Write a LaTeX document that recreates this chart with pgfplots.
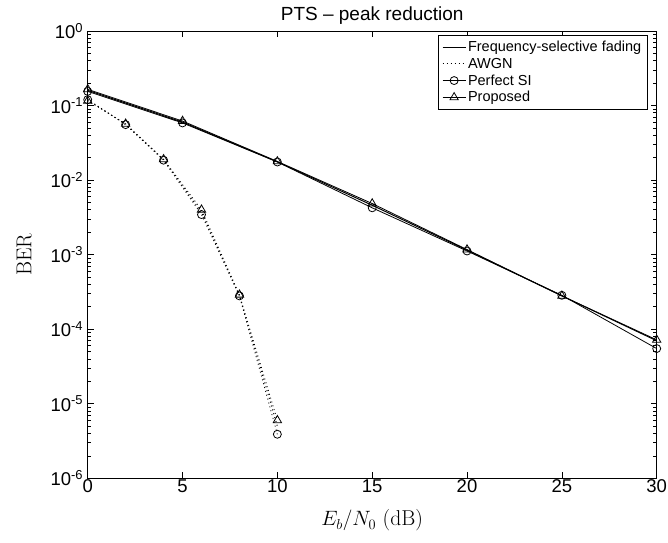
\documentclass[border=0pt]{standalone}
\usepackage{fontspec}
\newfontfamily\arial{Liberation Sans}
\usepackage{pgfplots}
\pgfplotsset{compat=1.18}

% Fading channel: theory, perfect SI, proposed
\pgfplotstableread{
snr   theory    perfect   proposed
0     0.160     0.155     0.165
5     0.0600    0.0585    0.0620
10    0.0176    0.0175    0.0178
15    0.00460   0.00425   0.00485
20    0.00115   0.00112   0.00117
25    0.000280  0.000285  0.000280
30    0.0000700 0.0000550 0.0000720
}\fading

% AWGN channel: theory, perfect SI, proposed
\pgfplotstableread{
snr   theory    perfect   proposed
0     0.120     0.120     0.116
2     0.0560    0.0555    0.0570
4     0.0188    0.0185    0.0190
6     0.00370   0.00345   0.00400
8     0.000282  0.000280  0.000290
10    0.0000050 0.0000039 0.0000060
}\awgn

\begin{document}
\begin{tikzpicture}
\begin{axis}[
  name=ax,
  scale only axis,
  width=569pt, height=447.3pt,
  xmin=0, xmax=30,
  ymin=1e-6, ymax=1,
  ymode=log,
  axis line style={line width=0.8pt},
  every tick/.style={black, line width=0.6pt},
  tick align=inside,
  major tick length=6pt,
  minor tick length=3.5pt,
  xtick={0,5,10,15,20,25,30},
  xticklabels={0,5,10,15,20,25,30},
  ytick={1e-6,1e-5,1e-4,1e-3,1e-2,1e-1,1},
  yticklabels={10\textsuperscript{-6},10\textsuperscript{-5},10\textsuperscript{-4},
               10\textsuperscript{-3},10\textsuperscript{-2},10\textsuperscript{-1},
               10\textsuperscript{0}},
  tick label style={font=\arial\fontsize{18.5}{20}\selectfont},
  xticklabel style={yshift=2pt},
  yticklabel style={xshift=-1pt},
  title={PTS \textendash{} peak reduction},
  title style={font=\arial\fontsize{19}{21}\selectfont, yshift=-3pt},
  xlabel={$E_b/N_0$ (dB)},
  ylabel={BER},
  label style={font=\fontsize{21.5}{23}\selectfont},
  xlabel style={yshift=-10pt},
  ylabel style={yshift=12pt},
  legend style={at={(0.984,0.991)}, anchor=north east,
    font=\arial\fontsize{14.5}{16}\selectfont,
    draw=black, line width=0.6pt, inner sep=4pt, row sep=0.8pt,
    cells={anchor=west}},
  legend image code/.code={%
    \draw[mark repeat=2, mark phase=2] plot coordinates {(0cm,0cm) (0.4cm,0cm) (0.8cm,0cm)};},
]
\addplot[black, line width=1pt] table[x=snr, y=theory] {\fading};
\addlegendentry{Frequency-selective fading}
\addplot[black, line width=1pt, dash pattern=on 1pt off 3pt] table[x=snr, y=theory] {\awgn};
\addlegendentry{AWGN}
\addplot[black, line width=0.8pt, mark=o, mark size=4pt] table[x=snr, y=perfect] {\fading};
\addlegendentry{Perfect SI}
\addplot[black, line width=0.8pt, mark=triangle, mark size=4.8pt] table[x=snr, y=proposed] {\fading};
\addlegendentry{Proposed}
\addplot[black, line width=0.8pt, dash pattern=on 1pt off 3pt, mark=o, mark size=4pt,
  mark options={solid}, forget plot] table[x=snr, y=perfect] {\awgn};
\addplot[black, line width=0.8pt, dash pattern=on 1pt off 3pt, mark=triangle, mark size=4.8pt,
  mark options={solid}, forget plot] table[x=snr, y=proposed] {\awgn};
\end{axis}
\pgfresetboundingbox
\path ([xshift=-87.7pt, yshift=-63.7pt]ax.south west) rectangle ([xshift=11.3pt, yshift=31pt]ax.north east);
\end{tikzpicture}
\end{document}
